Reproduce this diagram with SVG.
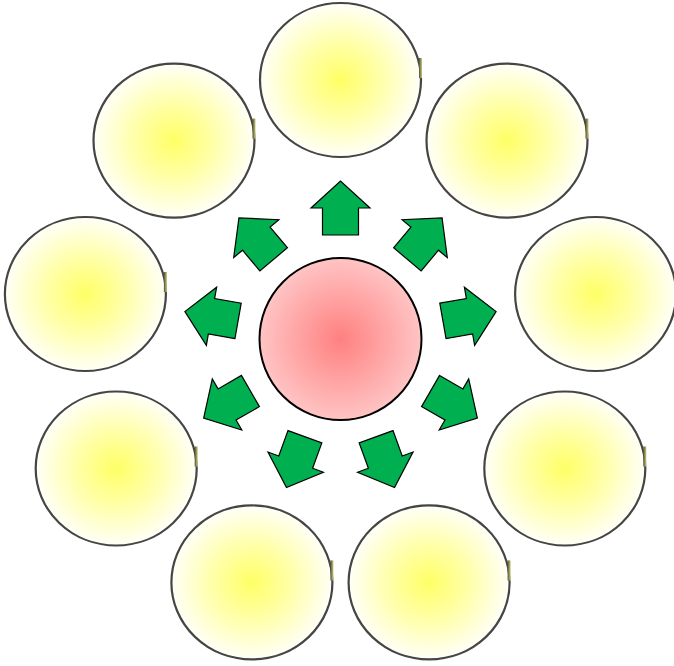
<svg xmlns="http://www.w3.org/2000/svg" width="674" height="666" viewBox="0 0 674 666">
<defs>
<radialGradient id="gy" cx="50%" cy="50%" r="50%">
<stop offset="0" stop-color="#ffff66"/>
<stop offset="0.5" stop-color="#ffffaa"/>
<stop offset="0.85" stop-color="#ffffe0"/>
<stop offset="1" stop-color="#fffff8"/>
</radialGradient>
<radialGradient id="gr" cx="50%" cy="50%" r="50%">
<stop offset="0" stop-color="#ff8080"/>
<stop offset="1" stop-color="#ffc4c4"/>
</radialGradient>
<linearGradient id="gm" x1="0" y1="0" x2="1" y2="0">
<stop offset="0" stop-color="#505030"/>
<stop offset="1" stop-color="#c8c880"/>
</linearGradient>
<path id="arr" d="M104,-18 L131,-18 L131,-29.5 L158,0 L131,29.5 L131,18 L104,18 Z"/>
</defs>
<style>
.out{fill:url(#gy);stroke:#454545;stroke-width:2.2}
.mark{fill:url(#gm)}
.ctr{fill:url(#gr);stroke:#000;stroke-width:2}
.ar{fill:#00b050;stroke:#000;stroke-width:1.2;stroke-linejoin:miter}
</style>
<rect width="674" height="666" fill="#fff"/>
<g id="n1"><ellipse class="out" cx="340.5" cy="80" rx="80.5" ry="77"/><rect class="mark" x="419" y="58" width="3" height="20"/></g>
<g id="n2"><ellipse class="out" cx="507" cy="140.6" rx="80.5" ry="77"/><rect class="mark" x="585.5" y="118.6" width="3" height="20"/></g>
<g id="n3"><ellipse class="out" cx="595.6" cy="294" rx="80.5" ry="77"/><rect class="mark" x="674" y="272" width="3" height="20"/></g>
<g id="n4"><ellipse class="out" cx="564.8" cy="468.5" rx="80.5" ry="77"/><rect class="mark" x="643.3" y="446.5" width="3" height="20"/></g>
<g id="n5"><ellipse class="out" cx="429.1" cy="582.4" rx="80.5" ry="77"/><rect class="mark" x="507.6" y="560.4" width="3" height="20"/></g>
<g id="n6"><ellipse class="out" cx="251.9" cy="582.4" rx="80.5" ry="77"/><rect class="mark" x="330.4" y="560.4" width="3" height="20"/></g>
<g id="n7"><ellipse class="out" cx="116.2" cy="468.5" rx="80.5" ry="77"/><rect class="mark" x="194.7" y="446.5" width="3" height="20"/></g>
<g id="n8"><ellipse class="out" cx="85.4" cy="294" rx="80.5" ry="77"/><rect class="mark" x="163.9" y="272" width="3" height="20"/></g>
<g id="n9"><ellipse class="out" cx="174" cy="140.6" rx="80.5" ry="77"/><rect class="mark" x="252.5" y="118.6" width="3" height="20"/></g>
<g id="center"><circle class="ctr" cx="340.5" cy="339" r="81"/></g>
<g id="connectors" transform="translate(340.5,339)">
<use href="#arr" class="ar" transform="rotate(-90)"/>
<use href="#arr" class="ar" transform="rotate(-50)"/>
<use href="#arr" class="ar" transform="rotate(-10)"/>
<use href="#arr" class="ar" transform="rotate(30)"/>
<use href="#arr" class="ar" transform="rotate(70)"/>
<use href="#arr" class="ar" transform="rotate(110)"/>
<use href="#arr" class="ar" transform="rotate(150)"/>
<use href="#arr" class="ar" transform="rotate(190)"/>
<use href="#arr" class="ar" transform="rotate(230)"/>
</g>
</svg>
